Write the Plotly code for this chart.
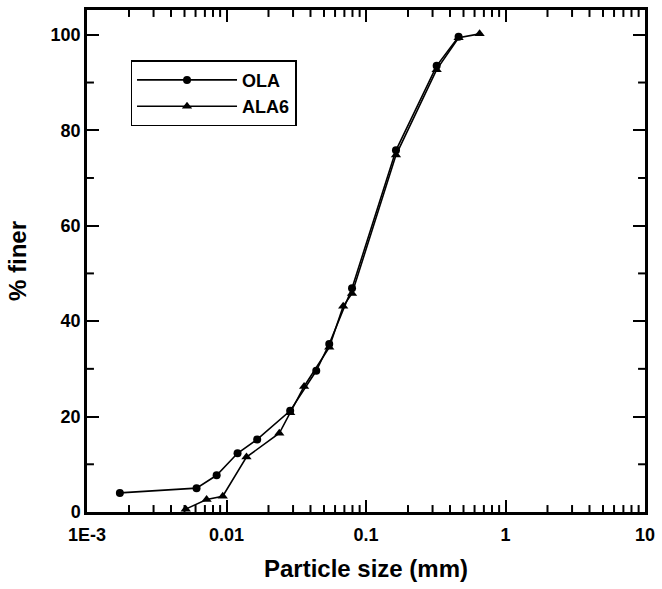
import plotly.graph_objects as go

ola_x = [0.00172, 0.0061, 0.0085, 0.012, 0.0166, 0.0286, 0.044, 0.0545, 0.0794, 0.164, 0.321, 0.461]
ola_y = [4.0, 5.0, 7.7, 12.3, 15.2, 21.2, 29.6, 35.2, 46.9, 75.8, 93.5, 99.6]

ala6_x = [0.0051, 0.0072, 0.0094, 0.0139, 0.0239, 0.0286, 0.036, 0.0545, 0.0686, 0.0794, 0.164, 0.321, 0.461, 0.652]
ala6_y = [0.6, 2.6, 3.3, 11.5, 16.5, 20.8, 26.3, 34.5, 43.1, 45.8, 74.8, 92.7, 99.4, 100.2]

x_tickvals = [0.001, 0.01, 0.1, 1, 10]
x_ticktext = ["1E-3", "0.01", "0.1", "1", "10"]
x_minor = [m * d for d in [0.001, 0.01, 0.1, 1] for m in range(2, 10)]
y_tickvals = [0, 20, 40, 60, 80, 100]
y_minor = [10, 30, 50, 70, 90]

FONT = "Liberation Sans"
X_RANGE = [-3, 1]
Y_RANGE = [0, 105.2]

W, H = 662, 589
M = dict(l=87, r=12, t=7, b=77)
PLOT_W = W - M["l"] - M["r"]
PLOT_H = H - M["t"] - M["b"]
MINOR_LEN = 7

fig = go.Figure()
fig.add_trace(go.Scatter(
    x=ola_x, y=ola_y, name="OLA", mode="lines+markers",
    line=dict(color="black", width=1.6),
    marker=dict(symbol="circle", size=8, color="black"),
))
fig.add_trace(go.Scatter(
    x=ala6_x, y=ala6_y, name="ALA6", mode="lines+markers",
    line=dict(color="black", width=1.6),
    marker=dict(symbol="triangle-up", size=9, color="black"),
))

axis_common = dict(
    showgrid=False, zeroline=False, showline=True, linecolor="black", linewidth=2.5,
    mirror="allticks", ticks="inside", tickcolor="black", ticklen=12, tickwidth=2,
    tickfont=dict(family=FONT, size=18, color="black", weight="bold"),
)

fig.update_xaxes(
    type="log", range=X_RANGE, tickmode="array", tickvals=x_tickvals, ticktext=x_ticktext,
    ticklabelstandoff=5,
    title=dict(text="Particle size (mm)",
               font=dict(family=FONT, size=24, color="black", weight="bold"), standoff=16),
    **axis_common,
)
fig.update_yaxes(
    range=Y_RANGE, tickmode="array", tickvals=y_tickvals,
    title=dict(text="% finer",
               font=dict(family=FONT, size=24, color="black", weight="bold"), standoff=18),
    **axis_common,
)

# minor ticks (inside, on all four sides)
tick_line = dict(color="black", width=2)
fy = MINOR_LEN / PLOT_H
fx = MINOR_LEN / PLOT_W
for v in x_minor:
    fig.add_shape(type="line", xref="x", yref="y domain", x0=v, x1=v, y0=0, y1=fy, line=tick_line, layer="above")
    fig.add_shape(type="line", xref="x", yref="y domain", x0=v, x1=v, y0=1, y1=1 - fy, line=tick_line, layer="above")
for v in y_minor:
    fig.add_shape(type="line", xref="x domain", yref="y", x0=0, x1=fx, y0=v, y1=v, line=tick_line, layer="above")
    fig.add_shape(type="line", xref="x domain", yref="y", x0=1, x1=1 - fx, y0=v, y1=v, line=tick_line, layer="above")

fig.update_layout(
    width=W, height=H,
    margin=M,
    paper_bgcolor="white", plot_bgcolor="white",
    showlegend=True,
    legend=dict(
        x=0.078, y=0.9, xanchor="left", yanchor="top",
        bordercolor="black", borderwidth=1.5, bgcolor="white",
        font=dict(family=FONT, size=18, color="black", weight="bold"),
        itemwidth=100, tracegroupgap=0,
    ),
)

fig.write_html("out.html")
